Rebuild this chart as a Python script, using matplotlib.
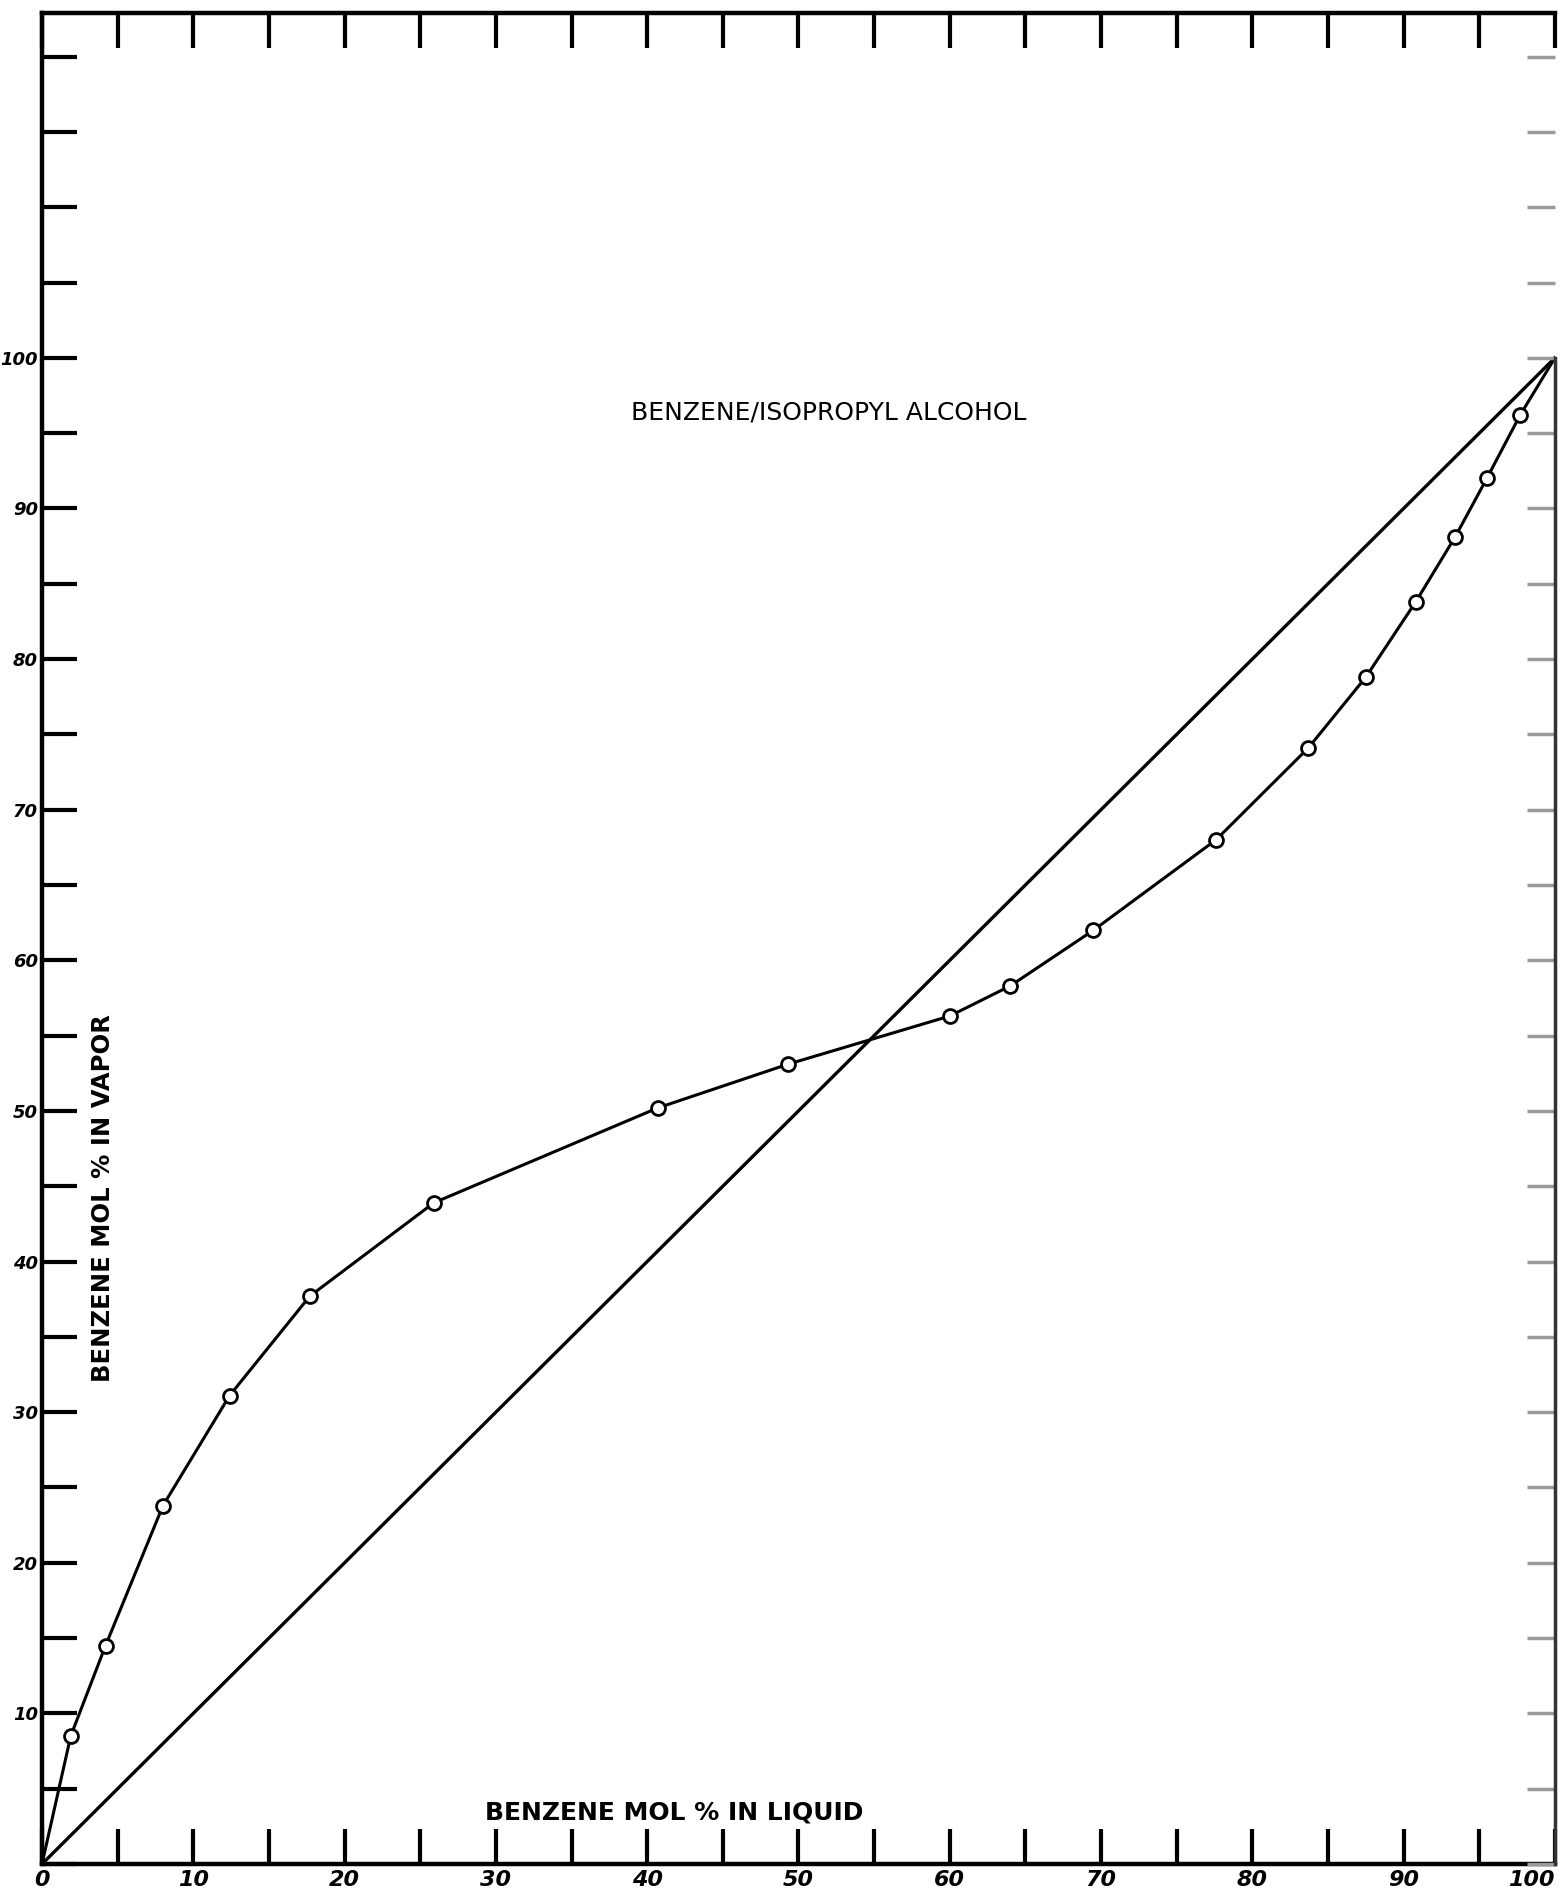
import matplotlib
matplotlib.use('Agg')
import matplotlib.pyplot as plt

# benzene mol % in liquid vs. in vapor (measured points)
liquid = [1.9, 4.2, 8.0, 12.4, 17.7, 25.9, 40.7, 49.3, 60.0, 64.0, 69.5,
          77.6, 83.7, 87.5, 90.8, 93.4, 95.5, 97.7]
vapor = [8.5, 14.5, 23.8, 31.1, 37.7, 43.9, 50.2, 53.1, 56.3, 58.3, 62.0,
         68.0, 74.1, 78.8, 83.8, 88.1, 92.0, 96.2]

# 45 degree reference line
diag_x = [0, 100]
diag_y = [0, 100]

x_ticks = list(range(0, 101, 5))
x_labels = [str(v) if v % 10 == 0 else '' for v in x_ticks]
y_ticks = list(range(0, 121, 5))
y_labels = [str(v) if v % 10 == 0 and 0 < v <= 100 else '' for v in y_ticks]

fig = plt.figure(figsize=(15.67, 18.98), dpi=100)
ax = fig.add_axes([0.0268, 0.0179, 0.9655, 0.9753])

ax.plot(diag_x, diag_y, color='black', lw=2.4)
ax.plot([0] + liquid + [100], [0] + vapor + [100], color='black', lw=2.2)
ax.plot(liquid, vapor, 'o', ms=10, mfc='white', mec='black', mew=2.0)

ax.set_xlim(0, 100)
ax.set_ylim(0, 122.9)

ax.set_xticks(x_ticks)
ax.set_xticklabels(x_labels, fontsize=16, fontweight='bold', fontstyle='italic')
ax.set_yticks(y_ticks)
ax.set_yticklabels(y_labels, fontsize=13, fontweight='bold', fontstyle='italic')
ax.get_xticklabels()[-1].set_horizontalalignment('right')

ax.tick_params(axis='x', direction='in', length=25, width=3, top=True, pad=4)
ax.tick_params(axis='y', direction='in', length=25, width=3, right=False, pad=3)

for s in ['left', 'bottom', 'top']:
    ax.spines[s].set_linewidth(3.2)
ax.spines['right'].set_visible(False)

# faint marks along the right edge
ax2 = ax.twinx()
ax2.set_ylim(ax.get_ylim())
ax2.set_yticks(y_ticks)
ax2.set_yticklabels([])
ax2.tick_params(axis='y', direction='in', length=20, width=2.5, color='#9a9a9a')
for s in ['left', 'bottom', 'top']:
    ax2.spines[s].set_visible(False)
ax2.spines['right'].set_linewidth(2.5)
ax2.spines['right'].set_color('#333333')
ax2.spines['right'].set_bounds(0, 100)

ax.text(52, 96.4, 'BENZENE/ISOPROPYL ALCOHOL', fontsize=18, ha='center', va='center')
ax.text(41.8, 3.4, 'BENZENE MOL % IN LIQUID', fontsize=18, fontweight='bold',
        ha='center', va='center')
ax.text(4.0, 44.2, 'BENZENE MOL % IN VAPOR', fontsize=17.5, fontweight='bold',
        rotation=90, ha='center', va='center')

fig.savefig('out.png', dpi=100)
